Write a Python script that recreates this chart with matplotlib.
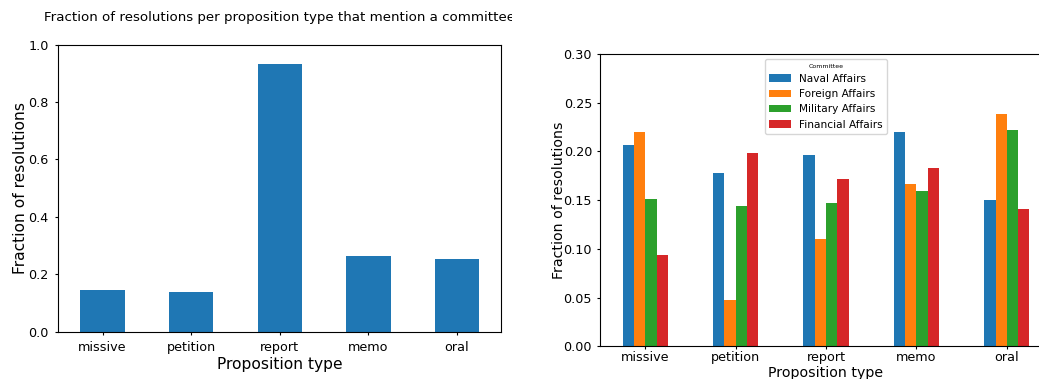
#!/usr/bin/env python3

import matplotlib
matplotlib.use("Agg")
import matplotlib.pyplot as plt
import numpy as np
from matplotlib.transforms import Bbox

types = ["missive", "petition", "report", "memo", "oral"]
committee_share = [0.147, 0.137, 0.932, 0.265, 0.255]

committees = ["Naval Affairs", "Foreign Affairs", "Military Affairs", "Financial Affairs"]
naval = [0.2066, 0.1776, 0.1960, 0.2200, 0.1498]
foreign = [0.2196, 0.0472, 0.1098, 0.1669, 0.2384]
military = [0.1509, 0.1440, 0.1468, 0.1597, 0.2217]
financial = [0.0934, 0.1980, 0.1714, 0.1833, 0.1406]

W, H = 1039, 379
fig = plt.figure(figsize=(W / 100, H / 100), dpi=100)


def px_axes(x0, y0, x1, y1):
    return fig.add_axes([x0 / W, 1 - y1 / H, (x1 - x0) / W, (y1 - y0) / H])


# overall share of resolutions mentioning a committee
ax1 = px_axes(58.3, 44.7, 501.3, 331.7)
x = np.arange(len(types))
ax1.bar(x, committee_share, width=0.5, color="#1f77b4")
ax1.set_xlim(-0.5, len(types) - 0.5)
ax1.set_ylim(0, 1.0)
ax1.set_xticks(x)
ax1.set_xticklabels(types)
ax1.tick_params(labelsize=9.2, length=2.5, pad=4.5)
ax1.set_xlabel("Proposition type", fontsize=11.2, labelpad=2)
ax1.set_ylabel("Fraction of resolutions", fontsize=11.2, labelpad=0)

title = fig.text(279.8 / W, 1 - 17 / H,
                 "Fraction of resolutions per proposition type that mention a committee",
                 ha="center", va="center", fontsize=9.6)
title.set_clip_box(Bbox([[0, 0], [512, H]]))
title.set_clip_on(True)

# per-committee breakdown
ax2 = px_axes(600, 54, 1052, 346.3)
series = [naval, foreign, military, financial]
colors = ["#1f77b4", "#ff7f0e", "#2ca02c", "#d62728"]
bw = 0.125
for i, (vals, name, c) in enumerate(zip(series, committees, colors)):
    ax2.bar(x + (i - 1.5) * bw, vals, width=bw, color=c, label=name)
ax2.set_xlim(-0.5, len(types) - 0.5)
ax2.set_ylim(0, 0.30)
ax2.set_yticks(np.arange(0, 0.301, 0.05))
ax2.set_xticks(x)
ax2.set_xticklabels(types)
ax2.tick_params(labelsize=9.2, length=2.2)
ax2.tick_params(axis="x", pad=1.5)
ax2.set_xlabel("Proposition type", fontsize=10.2, labelpad=1)
ax2.set_ylabel("Fraction of resolutions", fontsize=10.2, labelpad=-2)
leg = ax2.legend(title="Committee", loc="upper center", fontsize=7.6,
                 title_fontsize=4.5)

fig.savefig("out.png", dpi=100)
plt.close(fig)
